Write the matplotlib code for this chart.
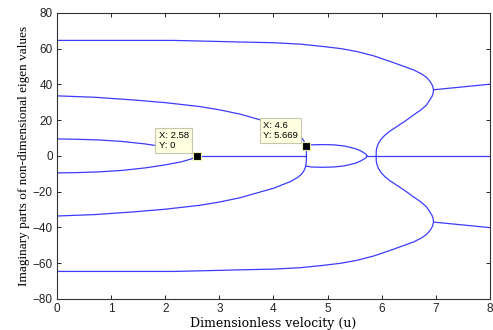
import matplotlib.pyplot as plt
import numpy as np

# upper halves of the eigenvalue branches (lower halves are the conjugates)
mode1_u = [0.0, 1.0, 2.15, 3.0, 3.38, 4.0, 4.5, 4.92, 5.25, 5.54, 5.85, 6.16, 6.4, 6.59,
           6.73, 6.83, 6.90, 6.94, 6.96, 6.95, 6.93, 6.88, 6.83, 6.72, 6.59, 6.44, 6.28,
           6.15, 6.06, 5.99, 5.94, 5.91, 5.90, 5.90]
mode1_im = [64.6, 64.6, 64.6, 64.0, 63.7, 63.3, 62.5, 61.2, 60.0, 58.4, 56.0, 52.8, 50.2, 48.1,
            46.0, 43.9, 41.5, 39.3, 37.0, 34.8, 33.2, 30.8, 28.5, 25.6, 22.9, 19.6, 16.4,
            13.8, 11.6, 9.3, 7.0, 4.5, 2.5, 0.0]

# coalesced pair after u ~ 6.96
mode1b_u = [6.96, 7.5, 8.0]
mode1b_im = [37.0, 38.6, 40.1]

mode2_u = [0.0, 0.7, 1.41, 2.0, 2.64, 3.0, 3.38, 4.0, 4.31, 4.45, 4.52, 4.56, 4.59, 4.605,
           4.61, 4.61]
mode2_im = [33.6, 32.8, 31.3, 29.8, 27.6, 25.8, 23.4, 18.1, 14.4, 12.0, 10.2, 8.5, 6.5, 4.0,
            2.0, 0.0]

mode3_u = [0.0, 0.4, 0.79, 1.2, 1.63, 2.0, 2.3, 2.49, 2.58]
mode3_im = [9.5, 9.3, 8.9, 8.1, 6.7, 5.0, 3.3, 1.6, 0.0]

loop_u = [4.6, 4.7, 4.9, 5.11, 5.3, 5.42, 5.52, 5.6, 5.66, 5.71, 5.73]
loop_im = [5.669, 6.2, 6.35, 6.2, 5.6, 4.8, 4.0, 3.0, 2.0, 1.0, 0.0]

# purely real roots (zero imaginary part)
real_segs = [([2.58, 4.6], [0.0, 0.0]), ([5.73, 8.0], [0.0, 0.0])]

tips = [(2.58, 0.0, 'X: 2.58\nY: 0'), (4.6, 5.669, 'X: 4.6\nY: 5.669')]

fig = plt.figure(figsize=(4.93, 3.30), dpi=100)
ax = fig.add_axes([0.1156, 0.094, 0.878, 0.867])

col = '#3c3cff'
for u, im in [(mode1_u, mode1_im), (mode1b_u, mode1b_im), (mode2_u, mode2_im),
              (mode3_u, mode3_im), (loop_u, loop_im)]:
    u = np.array(u)
    im = np.array(im)
    ax.plot(u, im, color=col, lw=0.9)
    ax.plot(u, -im, color=col, lw=0.9)
for u, im in real_segs:
    ax.plot(u, im, color=col, lw=0.9)

for x, y, s in tips:
    ax.plot(x, y, 's', color='black', markersize=5.5, markeredgecolor='#f0f0b0',
            markeredgewidth=0.8, zorder=5)
    ax.annotate(s, xy=(x, y), xytext=(-5.7, 4.2), textcoords='offset points',
                ha='right', va='bottom', multialignment='left', fontsize=6.8,
                family='Liberation Sans', linespacing=1.1, zorder=6,
                bbox=dict(boxstyle='square,pad=0.35', facecolor='#ffffe1',
                          edgecolor='#c8c8b0', lw=0.8))

ax.set_xlim(0, 8)
ax.set_ylim(-80, 80)
ax.set_xticks(range(0, 9))
ax.set_yticks(range(-80, 81, 20))
ax.tick_params(direction='in', top=True, right=True, length=3, width=0.7,
               labelsize=8.5, colors='#222222', pad=3)
for lab in ax.get_xticklabels() + ax.get_yticklabels():
    lab.set_family('Liberation Sans')
for sp in ax.spines.values():
    sp.set_color('#333333')
    sp.set_linewidth(0.8)

ax.set_xlabel('Dimensionless velocity (u)', family='DejaVu Serif', fontsize=9, labelpad=1)
ax.set_ylabel('Imaginary parts of non-dimensional eigen values', family='Liberation Serif',
              fontsize=9.5, labelpad=2)

fig.savefig('out.png', dpi=100)
